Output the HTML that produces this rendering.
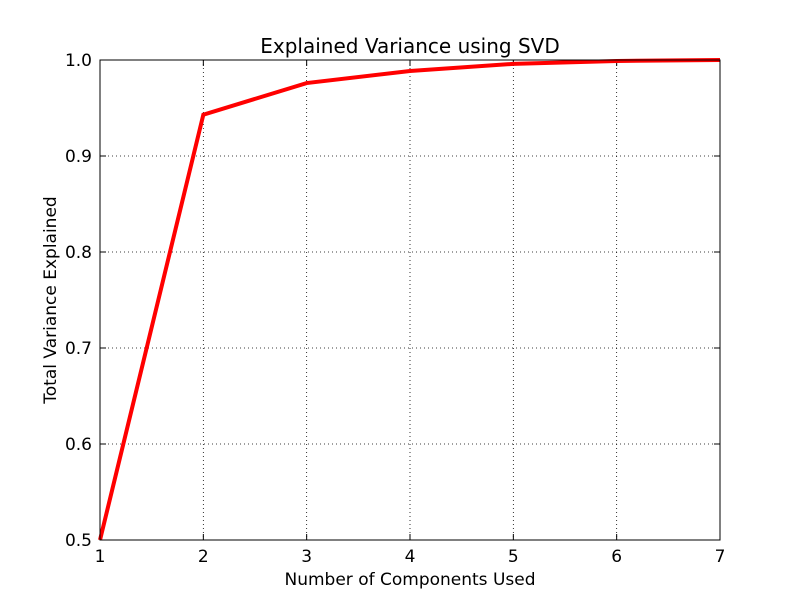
<!DOCTYPE html>
<html><head><meta charset="utf-8"><style>
html,body{margin:0;padding:0;background:#fff;}
svg text{font-family:"DejaVu Sans","Liberation Sans",sans-serif;fill:#000;}
</style></head><body>
<svg id="chart" width="800" height="600" xmlns="http://www.w3.org/2000/svg">
<rect width="800" height="600" fill="#fff"/>
<text x="410" y="53" text-anchor="middle" font-size="20">Explained Variance using SVD</text>
<g id="grid"></g>
<g id="ticks"></g>
<polyline id="line" fill="none" stroke="#ff0000" stroke-width="4" stroke-linejoin="miter"/>
<rect x="100" y="60" width="620" height="480" fill="none" stroke="#000" stroke-width="1"/>
<text x="410" y="585" text-anchor="middle" font-size="17">Number of Components Used</text>
<text transform="translate(56,300) rotate(-90)" text-anchor="middle" font-size="17">Total Variance Explained</text>
</svg>
<script>
const components = [1, 2, 3, 4, 5, 6, 7];
const variance = [0.5, 0.943, 0.976, 0.9885, 0.996, 0.999, 1.0];
const xTicks = [1, 2, 3, 4, 5, 6, 7];
const yTicks = [0.5, 0.6, 0.7, 0.8, 0.9, 1.0];

const X0 = 100, X1 = 720, Y0 = 540, Y1 = 60;
function xs(v) { return X0 + (v - 1) / (7 - 1) * (X1 - X0); }
function ys(v) { return Y0 - (v - 0.5) / (1.0 - 0.5) * (Y0 - Y1); }
const NS = "http://www.w3.org/2000/svg";
const grid = document.getElementById('grid');
const ticks = document.getElementById('ticks');
function mk(tag, attrs, parent) {
  const e = document.createElementNS(NS, tag);
  for (const k in attrs) e.setAttribute(k, attrs[k]);
  parent.appendChild(e);
  return e;
}
xTicks.forEach(t => {
  const x = xs(t);
  const g = mk('line', {x1: x, x2: x, y1: Y1, y2: Y0, stroke: '#000', 'stroke-width': 0.8, 'stroke-dasharray': '1,3'}, grid);
  
  
  const a = mk('line', {x1: x, x2: x, y1: Y0, y2: Y0 - 6, stroke: '#000'}, ticks);
  
  
  const b = mk('line', {x1: x, x2: x, y1: Y1, y2: Y1 + 6, stroke: '#000'}, ticks);
  
  
  const tx = mk('text', {x: x, y: Y0 + 22, 'text-anchor': 'middle', 'font-size': 17}, ticks);
  tx.textContent = String(t);
  
  
});
yTicks.forEach(t => {
  const y = ys(t);
  const g = mk('line', {x1: X0, x2: X1, y1: y, y2: y, stroke: '#000', 'stroke-width': 0.8, 'stroke-dasharray': '1,3'}, grid);
  
  
  const a = mk('line', {x1: X0, x2: X0 + 6, y1: y, y2: y, stroke: '#000'}, ticks);
  
  
  const b = mk('line', {x1: X1, x2: X1 - 6, y1: y, y2: y, stroke: '#000'}, ticks);
  
  
  const tx = mk('text', {x: X0 - 8, y: y + 6, 'text-anchor': 'end', 'font-size': 17}, ticks);
  tx.textContent = t.toFixed(1);
  
  
});
document.getElementById('line').setAttribute('points',
  components.map((c, i) => xs(c) + ',' + ys(variance[i])).join(' '));
</script>
</body></html>
